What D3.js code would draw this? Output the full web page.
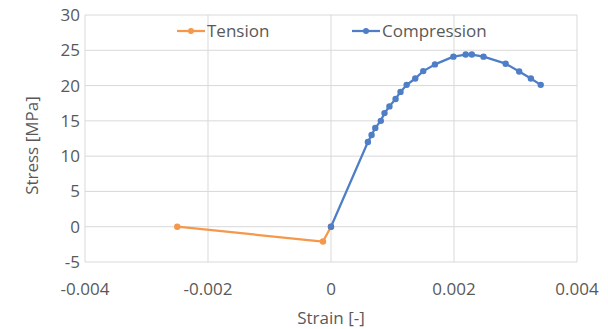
<!DOCTYPE html>
<html>
<head>
  <meta charset="utf-8">
  <style>
body { margin: 0; background: #fff; }
svg { font-family: "Open Sans", "Noto Sans", sans-serif; }
  </style>
</head>
<body>
  <svg id="chart" width="608" height="329"></svg>
  <script src="https://cdn.jsdelivr.net/npm/d3@7/dist/d3.min.js"></script>
  <script>
// Tension branch
var tensionStrain = [-0.0025, -0.00013, 0];
var tensionStress = [0, -2.1, 0];

// Compression branch
var compStrain = [0, 0.0006, 0.00066, 0.00072, 0.00081, 0.00087, 0.00095, 0.00105, 0.00113,
                  0.00123, 0.00137, 0.0015, 0.00169, 0.00199, 0.00219, 0.00229, 0.00248,
                  0.00284, 0.00306, 0.00325, 0.00341];
var compStress = [0, 12, 13, 14, 15, 16.1, 17.05, 18.1, 19.1, 20.1, 21, 22.05, 23, 24.1,
                  24.4, 24.4, 24.1, 23.1, 22, 21, 20.1];

var xTicks = [-0.004, -0.002, 0, 0.002, 0.004];
var yTicks = [-5, 0, 5, 10, 15, 20, 25, 30];

var svg = d3.select("#chart");
var plotLeft = 85, plotRight = 577, plotTop = 15, plotBottom = 262;

var x = d3.scaleLinear().domain([-0.004, 0.004]).range([plotLeft, plotRight]);
var y = d3.scaleLinear().domain([-5, 30]).range([plotBottom, plotTop]);

var textColor = "#595959";
var orange = "#f5984a", blue = "#4d7ec6";
var fontSize = "17px";

// Gridlines
svg.append("g").selectAll("line")
  .data(yTicks).enter().append("line")
    .attr("x1", plotLeft).attr("x2", plotRight)
    .attr("y1", function(d) { return y(d); }).attr("y2", function(d) { return y(d); })
    .attr("stroke", "#d9d9d9").attr("stroke-width", 1);

svg.append("g").selectAll("line")
  .data(xTicks).enter().append("line")
    .attr("x1", function(d) { return x(d); }).attr("x2", function(d) { return x(d); })
    .attr("y1", plotTop).attr("y2", plotBottom)
    .attr("stroke", "#d9d9d9").attr("stroke-width", 1);

// Tick labels
svg.append("g").selectAll("text")
  .data(yTicks).enter().append("text")
    .attr("x", 80)
    .attr("y", function(d) { return y(d); })
    .attr("dy", "0.35em")
    .attr("text-anchor", "end")
    .attr("fill", textColor)
    .style("font-size", fontSize)
    .text(function(d) { return d; });

svg.append("g").selectAll("text")
  .data(xTicks).enter().append("text")
    .attr("x", function(d) { return x(d); })
    .attr("y", 295)
    .attr("text-anchor", "middle")
    .attr("fill", textColor)
    .style("font-size", fontSize)
    .text(function(d) { return d; });

// Axis titles
svg.append("text")
  .attr("x", x(0)).attr("y", 324)
  .attr("text-anchor", "middle")
  .attr("fill", textColor)
  .style("font-size", fontSize)
  .text("Strain [-]");

svg.append("text")
  .attr("transform", "translate(38," + y(11.5) + ") rotate(-90)")
  .attr("text-anchor", "middle")
  .attr("fill", textColor)
  .style("font-size", fontSize)
  .text("Stress [MPa]");

// Series
var line = d3.line()
  .x(function(d) { return x(d[0]); })
  .y(function(d) { return y(d[1]); });

function drawSeries(xs, ys, color) {
  var pts = d3.zip(xs, ys);
  svg.append("path")
    .datum(pts)
    .attr("fill", "none")
    .attr("stroke", color)
    .attr("stroke-width", 2.25)
    .attr("stroke-linejoin", "round")
    .attr("d", line);
  svg.append("g").selectAll("circle")
    .data(pts).enter().append("circle")
      .attr("cx", function(d) { return x(d[0]); })
      .attr("cy", function(d) { return y(d[1]); })
      .attr("r", 3.2)
      .attr("fill", color);
}

drawSeries(tensionStrain, tensionStress, orange);
drawSeries(compStrain, compStress, blue);

// Legend
var legend = [
  {name: "Tension", color: orange, x: 177},
  {name: "Compression", color: blue, x: 352}
];
var lg = svg.append("g").selectAll("g")
  .data(legend).enter().append("g")
    .attr("transform", function(d) { return "translate(" + d.x + ",31)"; });
lg.append("line")
  .attr("x1", 0).attr("x2", 28)
  .attr("stroke", function(d) { return d.color; })
  .attr("stroke-width", 2.25);
lg.append("circle")
  .attr("cx", 14).attr("r", 3)
  .attr("fill", function(d) { return d.color; });
lg.append("text")
  .attr("x", 30)
  .attr("dy", "0.35em")
  .attr("fill", textColor)
  .style("font-size", fontSize)
  .text(function(d) { return d.name; });
  </script>
</body>
</html>
